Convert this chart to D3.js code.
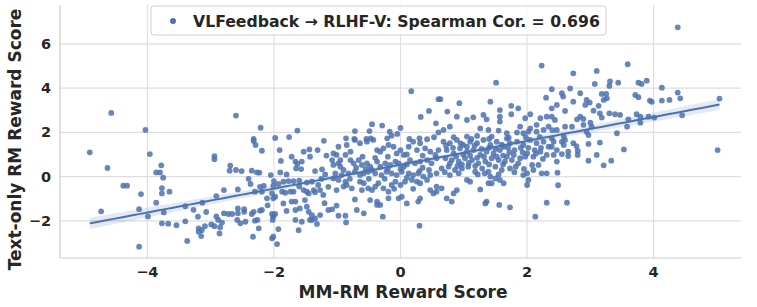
<!DOCTYPE html>
<html>
<head>
<meta charset="utf-8">
<script src="https://cdn.jsdelivr.net/npm/d3@7"></script>
<style>
  body { margin: 0; background: #fff; }
  text { font-family: "DejaVu Sans", sans-serif; font-weight: bold; fill: #262626; }
</style>
</head>
<body>
<div class="chart-wrapper"></div>
<script>
// [MM-RM score, text-only RM score]
const scores = [
  [-4.57,2.88],[-4.03,2.11],
  [-4.91,1.10],[-4.63,0.39],[-3.96,1.02],[-3.78,0.51],[-3.86,0.19],[-3.80,0.19],[-3.75,-0.05],[-4.38,-0.41],
  [-4.32,-0.41],[-3.77,-0.52],[-3.77,-0.76],[-3.65,-0.68],[-4.10,-0.79],[-3.86,-1.18],[-4.13,-1.47],[-4.73,-1.57],
  [-3.74,-1.62],[-3.99,-1.80],[-3.77,-2.11],[-3.67,-2.13],[-3.54,-2.20],[-3.40,-2.02],[-4.13,-3.17],[-3.37,-2.91],
  [-3.40,-1.34],[-3.27,-1.50],[-3.20,-1.81],[-3.07,-1.60],[-3.13,-1.18],[-2.94,0.93],[-2.94,0.78],[-2.91,-0.88],
  [-2.91,-1.80],[-2.88,-1.96],[-2.99,-2.16],[-2.94,-2.24],[-3.19,-2.34],[-3.14,-2.42],[-3.19,-2.49],[-3.15,-2.69],
  [-3.09,-2.24],[-2.86,-2.57],
  [-2.60,2.76],[-2.21,2.21],[-2.32,1.70],[-1.98,1.75],[-1.76,1.79],[-1.63,2.08],[-1.21,1.62],
  [-2.32,1.61],[-2.29,1.43],[-2.19,1.17],[-1.91,1.20],[-1.72,0.90],[-1.53,1.13],[-1.44,1.23],[-1.31,1.20],
  [-1.17,0.95],[-1.43,0.90],[-1.89,0.71],[-1.66,0.68],[-1.63,0.57],[-1.56,0.68],[-1.65,0.37],[-1.57,0.34],
  [-2.69,0.50],[-2.70,0.27],[-2.60,0.30],[-2.51,0.25],[-2.35,0.27],[-2.27,0.19],[-2.23,0.18],[-2.05,0.07],
  [-1.90,0.19],[-1.80,0.10],[-1.35,0.25],[-1.24,0.33],[-1.19,0.10],[-2.79,-0.61],[-2.57,-0.58],[-2.37,-0.33],
  [-2.22,-0.46],[-2.16,-0.42],[-2.01,-0.41],[-1.93,-0.33],[-1.85,-0.23],[-1.77,-0.20],[-1.69,-0.20],[-1.60,-0.18],
  [-1.48,-0.27],[-1.40,-0.23],[-1.30,-0.38],[-1.27,-0.61],[-1.14,-0.46],[-2.30,-0.68],[-2.19,-0.68],[-2.11,-0.98],
  [-2.03,-0.76],[-1.98,-0.91],[-2.01,-0.98],[-1.87,-0.68],[-1.82,-0.73],[-1.74,-0.68],[-1.69,-0.68],[-1.53,-0.61],
  [-1.48,-0.68],[-1.45,-0.76],[-1.37,-0.61],[-1.35,-0.71],[-1.22,-0.83],[-1.85,-1.21],[-1.72,-1.13],[-1.66,-1.13],
  [-1.51,-1.06],[-1.48,-1.36],[-1.59,-1.44],[-1.66,-1.51],[-1.45,-1.59],[-1.40,-1.74],[-1.35,-1.89],[-1.43,-1.96],
  [-1.27,-1.74],[-1.14,-1.51],[-2.79,-1.66],[-2.72,-1.69],[-2.66,-1.69],[-2.57,-1.44],[-2.57,-1.66],[-2.47,-1.47],
  [-2.47,-1.59],[-2.35,-1.69],[-2.32,-1.59],[-2.22,-1.54],[-2.19,-1.51],[-2.03,-1.69],[-2.01,-1.81],[-1.98,-1.69],
  [-2.58,-1.96],[-2.45,-2.04],[-2.53,-2.11],[-2.30,-1.99],[-2.26,-1.96],[-2.02,-1.96],[-1.66,-1.96],[-1.56,-2.04],
  [-1.40,-1.96],[-1.32,-2.14],[-2.82,-2.08],[-2.85,-2.29],[-2.24,-2.34],[-1.93,-2.37],[-1.61,-2.42],[-2.33,-2.72],
  [-2.03,-2.79],[-2.01,-2.72],[-1.95,-3.05],
  [-2.40,-0.10],[-2.00,-0.20],[-1.60,-0.45],[-1.25,-0.10],[-2.10,-1.30],[-1.80,-1.55],[-1.20,-1.20],
  [0.17,3.86],[0.60,3.50],[0.45,2.97],[0.32,2.70],[0.56,2.41],[-0.45,2.37],[-0.29,2.31],[-0.72,2.06],[-0.49,2.06],
  [-0.17,2.03],[0.00,2.20],[-0.05,1.93],[-0.14,1.85],[-0.86,1.73],[-0.73,1.70],[-0.54,1.70],[-0.47,1.73],[-0.21,1.73],
  [0.14,1.70],[0.30,1.73],[0.42,1.69],[0.53,1.78],[0.60,2.00],
  [-0.98,1.35],[-0.85,1.43],[-0.72,1.66],[-0.64,1.51],[-0.53,1.58],[-0.43,1.66],[-0.37,1.20],[-0.32,1.13],[-0.27,1.28],
  [-0.19,1.43],[-0.11,1.35],[-0.06,1.05],[0.00,1.20],[0.05,0.98],[0.13,1.35],[0.20,1.58],[0.26,1.20],[0.31,1.51],
  [0.39,1.28],[0.47,1.13],[0.55,0.98],[0.60,1.20],[-1.06,1.05],[-1.01,0.98],[-0.87,0.98],[-0.79,1.13],[-0.95,0.75],
  [-1.08,0.75],[-1.06,0.53],[-0.98,0.60],[-0.95,0.45],[-0.79,0.75],[-0.74,0.60],[-0.66,0.75],[-0.61,0.53],[-0.53,0.60],
  [-0.48,0.45],[-0.45,0.30],[-0.37,0.68],[-0.32,0.45],[-0.24,0.60],[-0.16,0.53],[-0.08,0.68],[-0.03,0.60],[0.05,0.45],
  [0.15,0.75],[0.23,0.60],[0.31,0.68],[0.42,0.75],[0.49,0.60],[0.57,0.83],[-1.03,0.15],[-0.93,0.07],[-0.82,0.15],
  [-0.72,0.22],[-0.64,0.07],[-0.58,0.15],[-0.51,0.22],[-0.40,0.15],[-0.30,0.07],[-0.22,0.22],[-0.14,0.15],[-0.06,0.07],
  [0.02,0.22],[0.13,0.15],[0.20,0.07],[0.28,0.15],[0.36,0.00],[0.47,0.07],[0.57,0.15],
  [-0.90,0.30],[-0.70,0.40],[-0.55,0.35],[-0.20,0.35],[0.00,0.35],[0.10,0.55],[0.35,0.40],[0.45,0.30],[-0.40,0.85],
  [-0.20,0.90],[0.10,1.00],[0.35,0.95],[-0.60,0.90],[-0.80,-0.10],[-0.50,-0.10],[-0.25,-0.10],[0.10,-0.05],[0.30,0.25],
  [-0.10,-0.55],[0.20,-0.55],
  [-1.06,-0.08],[-0.98,-0.15],[-0.87,-0.23],[-0.85,-0.38],[-0.77,-0.53],[-1.01,-0.61],[-0.90,-0.45],[-0.64,-0.23],
  [-0.58,-0.30],[-0.61,-0.61],[-0.51,-0.53],[-0.45,-0.61],[-0.40,-0.45],[-0.35,-0.30],[-0.27,-0.53],[-0.19,-0.68],
  [-0.14,-0.38],[-0.08,-0.23],[0.00,-0.38],[0.07,-0.23],[0.18,-0.15],[0.26,-0.23],[0.31,-0.30],[0.42,-0.15],
  [0.47,-0.61],[0.57,-0.45],[0.57,-0.68],
  [-0.72,-1.03],[-0.48,-1.06],[-0.37,-1.13],[-0.32,-1.28],[-0.19,-0.98],[-0.03,-0.98],[0.02,-0.91],[0.10,-1.21],
  [0.28,-1.13],[0.31,-0.98],[-1.01,-1.31],[-1.08,-1.48],[-0.69,-1.51],[-0.58,-1.66],[-0.37,-1.28],[-0.98,-1.77],
  [-0.87,-1.77],[-0.86,-2.07],[-0.28,-1.81],[0.30,-2.22],[0.52,-0.76],
  [2.23,5.02],[1.51,4.25],[2.30,3.57],[1.42,3.39],[0.93,3.32],[0.63,3.50],[1.75,3.20],[1.86,3.09],[1.57,3.01],
  [0.74,2.94],[0.89,2.71],[1.05,2.56],[1.15,2.68],[1.31,2.79],[1.36,2.59],[1.57,2.71],[1.57,2.49],[1.75,2.82],
  [2.05,2.82],[2.21,2.64],[2.31,2.71],[1.97,2.64],[0.78,2.26],[0.68,2.11],[1.26,2.18],[1.39,2.11],[1.89,2.26],
  [2.05,2.18],[2.15,2.34],[1.55,2.08],[1.68,1.96],[1.84,1.99],[0.84,1.78],[1.05,1.81],[1.21,1.84],[1.44,1.81],
  [1.71,1.76],[1.94,1.96],[2.02,2.03],[2.15,2.03],[2.26,2.11],[2.34,2.26],
  [0.68,1.58],[0.78,1.51],[0.89,1.66],[0.99,1.43],[1.10,1.58],[1.21,1.51],[1.31,1.66],[1.42,1.43],[1.52,1.58],
  [1.63,1.35],[1.73,1.51],[1.84,1.58],[1.94,1.43],[2.05,1.66],[2.15,1.51],[2.26,1.58],[2.34,1.35],
  [0.73,1.20],[0.84,1.05],[0.94,1.28],[1.05,1.13],[1.15,1.20],[1.26,0.98],[1.36,1.13],[1.47,1.05],[1.57,1.20],
  [1.68,0.90],[1.79,0.98],[1.89,0.83],[2.00,1.05],[2.10,0.90],[2.21,1.13],[2.31,0.98],
  [0.71,0.83],[0.81,0.75],[0.92,0.68],[1.02,0.83],[1.13,0.75],[1.23,0.60],[1.34,0.68],[1.44,0.83],[1.55,0.75],
  [1.65,0.68],[1.76,0.75],[1.86,0.60],[1.97,0.90],[2.08,0.53],[2.18,0.53],[2.31,0.15],
  [0.65,0.37],[0.76,0.45],[0.86,0.30],[0.97,0.37],[1.07,0.45],[1.18,0.22],[1.29,0.37],[1.39,0.22],[1.50,0.45],
  [1.60,0.30],[1.73,0.37],[1.94,0.07],[2.00,0.15],[2.23,0.15],
  [0.78,0.07],[0.92,0.15],[1.05,-0.15],[1.10,-0.23],[1.42,0.00],[1.50,-0.08],[1.57,-0.15],[1.63,-0.30],[1.39,-0.30],
  [1.44,-0.30],[2.02,-0.15],[2.00,-0.38],
  [0.72,1.40],[0.83,1.30],[0.95,1.50],[1.05,1.35],[1.17,1.40],[1.28,1.25],[1.40,1.30],[1.50,1.25],[1.60,1.45],
  [1.70,1.30],[1.80,1.20],[1.90,1.30],[2.02,1.30],[2.12,1.20],[2.22,1.30],[0.88,0.90],[0.99,1.00],[1.10,0.95],
  [1.21,0.85],[1.32,0.90],[1.52,0.90],[1.62,0.95],[1.72,1.10],[1.93,1.10],[2.14,1.05],[2.25,0.80],[0.78,0.60],
  [0.97,0.55],[1.08,0.62],[1.18,0.48],[1.40,0.55],[1.62,0.55],[1.82,0.45],[1.95,0.35],[2.10,0.30],[0.70,0.20],
  [0.90,0.48],[1.22,0.10],[1.33,0.15],[1.55,0.10],[1.80,0.20],[1.12,1.70],[1.40,1.70],[1.68,1.72],[1.98,1.78],
  [2.20,1.80],[2.40,2.10],
  [0.65,-0.53],[0.89,-0.61],[0.84,-0.76],[0.73,-0.98],[0.81,-1.13],[1.26,-0.58],[1.36,-1.13],[1.34,-1.21],
  [1.56,-1.28],[1.73,-1.39],[2.13,-1.81],[2.31,-1.18],
  [3.59,5.08],[3.10,4.78],[2.73,4.67],[3.31,4.30],[3.44,4.25],[3.07,4.19],[3.30,4.10],[3.76,4.25],[3.89,4.34],
  [3.81,4.19],[2.39,3.95],[2.68,3.99],[2.55,3.77],[2.57,3.62],[2.84,3.77],[3.18,3.74],[3.25,3.74],[3.21,3.47],
  [3.26,3.54],[3.71,3.69],[3.76,3.59],[3.94,3.44],[2.73,3.39],[2.94,3.47],[2.99,3.35],[2.92,3.24],[2.47,3.24],
  [2.39,3.09],[3.13,3.20],[2.60,2.97],[3.15,2.86],[3.30,2.86],[2.84,2.71],[2.79,2.59],[2.89,2.61],[3.05,2.98],
  [3.39,2.82],[3.47,2.79],[3.60,2.59],[3.73,2.82],[3.79,2.71],[3.92,2.71],[2.39,2.71],[2.44,2.56],[3.18,2.67],
  [3.00,2.44],[2.60,2.26],[2.71,2.26],[2.89,2.34],[3.02,2.26],[3.58,2.26],[3.79,2.44],[2.47,2.11],[2.94,2.03],
  [2.97,1.88],[3.42,1.96],[2.58,1.81],[2.39,1.73],
  [2.39,1.35],[2.47,1.20],[2.55,1.58],[2.58,1.43],[2.60,1.66],[2.42,0.98],[2.55,1.02],[2.65,1.13],[2.65,0.93],
  [2.73,1.51],[2.78,1.38],[2.80,1.17],[2.80,0.98],[2.97,1.48],[3.15,1.54],[3.10,0.98],[3.53,1.23],[2.97,0.72],
  [3.21,0.51],[3.33,0.72],[2.47,0.68],[2.48,0.18],[2.49,-0.39],[2.63,-1.18],[2.42,1.58],
  [4.38,6.75],[4.13,4.02],[4.38,3.80],[4.42,3.54],[3.97,3.38],[4.13,3.44],[4.25,3.47],[4.01,2.67],[4.45,2.77],
  [5.04,3.53],[5.01,1.20]
];

const xTicks = [-4, -2, 0, 2, 4];
const yTicks = [-2, 0, 2, 4, 6];
const xLabel = "MM-RM Reward Score";
const yLabel = "Text-only RM Reward Score";
const legendLabel = "VLFeedback → RLHF-V: Spearman Cor. = 0.696";

const width = 757, height = 307;
const blue = "#4c72b0";

const x = d3.scaleLinear().domain([-5.38, 5.38]).range([60, 741]);
const y = d3.scaleLinear().domain([-3.68, 7.76]).range([258, 5]);

const svg = d3.select(".chart-wrapper").append("svg")
    .attr("width", width)
    .attr("height", height)

// grid
svg.append("g")
    .selectAll("line")
    .data(xTicks)
    .join("line")
    .attr("x1", d => x(d)).attr("x2", d => x(d))
    .attr("y1", y.range()[1]).attr("y2", y.range()[0])
    .attr("stroke", "#dedede")
    .attr("stroke-width", 1.1)

svg.append("g")
    .selectAll("line")
    .data(yTicks)
    .join("line")
    .attr("x1", x.range()[0]).attr("x2", x.range()[1])
    .attr("y1", d => y(d)).attr("y2", d => y(d))
    .attr("stroke", "#dedede")
    .attr("stroke-width", 1.1)

// spines (left + bottom only)
svg.append("line")
    .attr("x1", x.range()[0]).attr("x2", x.range()[0])
    .attr("y1", y.range()[1]).attr("y2", y.range()[0])
    .attr("stroke", "#cccccc").attr("stroke-width", 1.2)
svg.append("line")
    .attr("x1", x.range()[0]).attr("x2", x.range()[1])
    .attr("y1", y.range()[0]).attr("y2", y.range()[0])
    .attr("stroke", "#cccccc").attr("stroke-width", 1.2)

// scatter
svg.append("g")
    .selectAll("circle")
    .data(scores)
    .join("circle")
    .attr("cx", d => x(d[0]))
    .attr("cy", d => y(d[1]))
    .attr("r", 2.9)
    .attr("fill", blue)
    .attr("fill-opacity", 0.85)

// least squares fit + 95% band
const n = scores.length;
const mx = d3.mean(scores, d => d[0]);
const my = d3.mean(scores, d => d[1]);
const sxx = d3.sum(scores, d => (d[0] - mx) ** 2);
const sxy = d3.sum(scores, d => (d[0] - mx) * (d[1] - my));
const slope = sxy / sxx;
const intercept = my - slope * mx;
const sse = d3.sum(scores, d => (d[1] - intercept - slope * d[0]) ** 2);
const s = Math.sqrt(sse / (n - 2));

const [xmin, xmax] = d3.extent(scores, d => d[0]);
const grid = d3.range(0, 101).map(i => xmin + (xmax - xmin) * i / 100);
const fit = grid.map(gx => {
    const yhat = intercept + slope * gx;
    const se = s * Math.sqrt(1 / n + (gx - mx) ** 2 / sxx);
    return {x: gx, y: yhat, lo: yhat - 1.96 * se, hi: yhat + 1.96 * se};
});

svg.append("path")
    .datum(fit)
    .attr("d", d3.area().x(d => x(d.x)).y0(d => y(d.lo)).y1(d => y(d.hi)))
    .attr("fill", blue)
    .attr("fill-opacity", 0.15)

svg.append("path")
    .datum(fit)
    .attr("d", d3.line().x(d => x(d.x)).y(d => y(d.y)))
    .attr("fill", "none")
    .attr("stroke", blue)
    .attr("stroke-width", 2)

// tick labels
svg.append("g")
    .selectAll("text")
    .data(xTicks)
    .join("text")
    .attr("x", d => x(d))
    .attr("y", 277)
    .attr("text-anchor", "middle")
    .style("font-size", "14.5px")
    .text(d => d3.format("d")(d))

svg.append("g")
    .selectAll("text")
    .data(yTicks)
    .join("text")
    .attr("x", 51)
    .attr("y", d => y(d) + 5)
    .attr("text-anchor", "end")
    .style("font-size", "14.5px")
    .text(d => d3.format("d")(d))

// axis labels
svg.append("text")
    .attr("x", 403)
    .attr("y", 298)
    .attr("text-anchor", "middle")
    .style("font-size", "17px")
    .text(xLabel)

svg.append("text")
    .attr("transform", `translate(21,${(5 + 258) / 2 + 8}) rotate(-90)`)
    .attr("text-anchor", "middle")
    .style("font-size", "17px")
    .text(yLabel)

// legend
const legend = svg.append("g")
legend.append("rect")
    .attr("x", 151).attr("y", 6)
    .attr("width", 455).attr("height", 29)
    .attr("rx", 3)
    .attr("fill", "#fff").attr("fill-opacity", 0.8)
    .attr("stroke", "#d0d0d0")
legend.append("circle")
    .attr("cx", 173).attr("cy", 21)
    .attr("r", 3)
    .attr("fill", blue)
legend.append("text")
    .attr("x", 193).attr("y", 26.5)
    .style("font-size", "15.7px")
    .text(legendLabel)
</script>
</body>
</html>
